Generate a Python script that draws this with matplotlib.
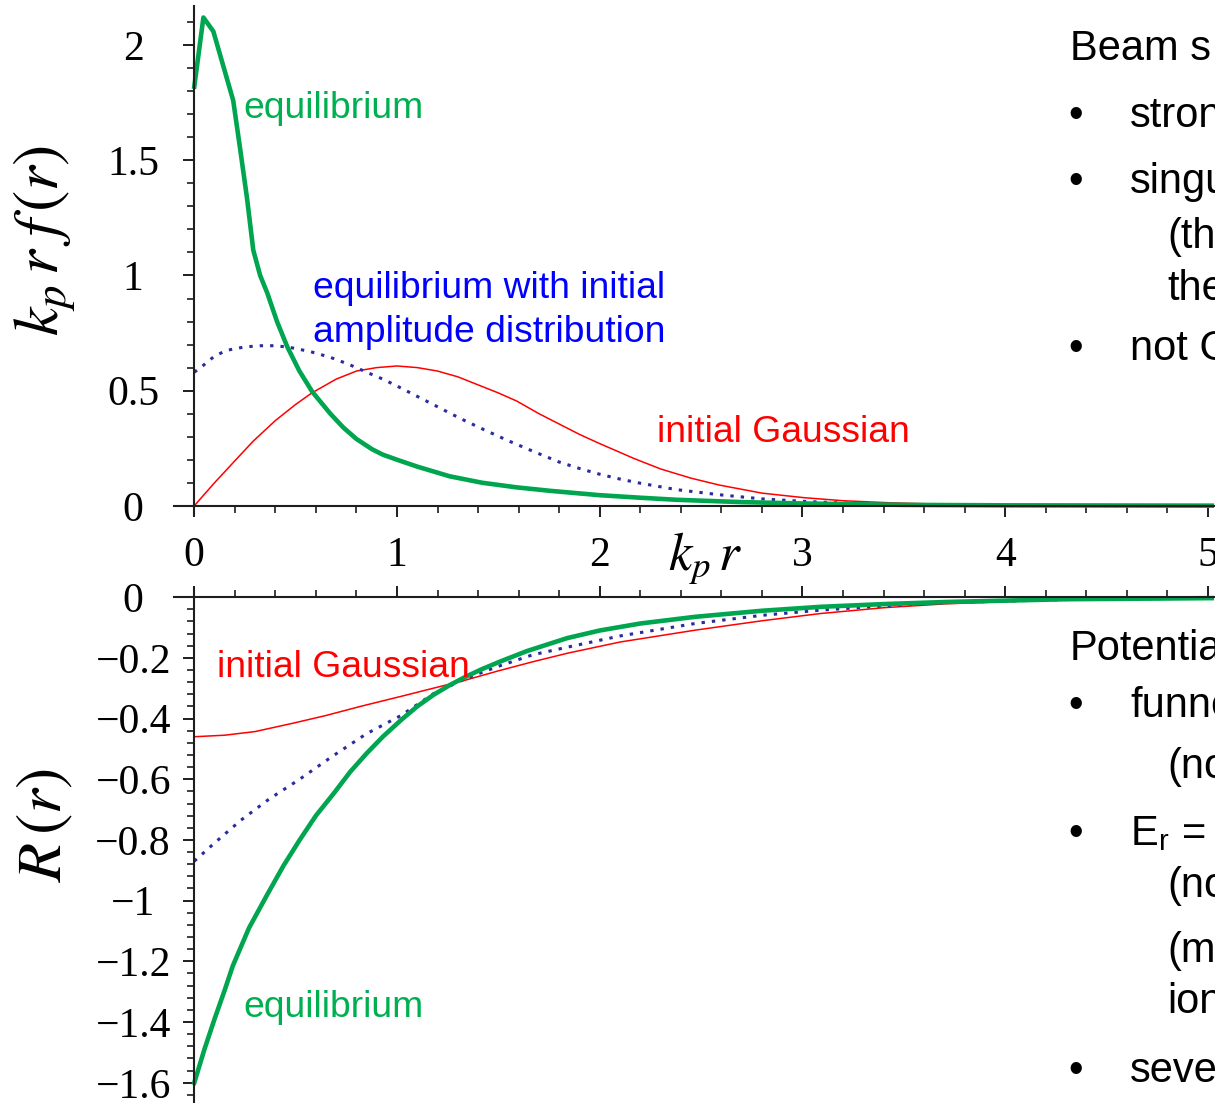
import numpy as np
import matplotlib.pyplot as plt
from matplotlib.ticker import MultipleLocator

plt.rcParams['font.family'] = 'Liberation Serif'
plt.rcParams['mathtext.fontset'] = 'stix'

# --- top panel: k_p r f(r) ---
r_eq_top = [0.0, 0.045, 0.094, 0.192, 0.227, 0.261, 0.291, 0.325, 0.36, 0.409, 0.459,
            0.518, 0.582, 0.671, 0.735, 0.80, 0.878, 0.93, 1.0, 1.1, 1.26, 1.42, 1.59,
            1.755, 2.0, 2.2, 2.38, 2.7, 3.0, 3.5, 4.0, 5.1]
f_eq_top = [1.82, 2.12, 2.06, 1.76, 1.545, 1.33, 1.11, 1.0, 0.924, 0.798, 0.69,
            0.586, 0.495, 0.40, 0.34, 0.29, 0.245, 0.222, 0.20, 0.17, 0.128, 0.10, 0.08,
            0.065, 0.046, 0.035, 0.026, 0.016, 0.010, 0.004, 0.002, 0.0005]

r_amp_top = [0.0, 0.045, 0.1, 0.16, 0.25, 0.33, 0.4, 0.47, 0.57, 0.67, 0.76, 0.85, 0.93,
             1.0, 1.1, 1.2, 1.31, 1.43, 1.55, 1.67, 1.8, 1.9, 2.0, 2.1, 2.2, 2.38, 2.59,
             2.8, 3.01, 3.25, 3.5, 4.0, 5.1]
f_amp_top = [0.58, 0.61, 0.65, 0.675, 0.69, 0.695, 0.695, 0.688, 0.67, 0.645, 0.615, 0.58,
             0.55, 0.52, 0.475, 0.43, 0.38, 0.33, 0.282, 0.237, 0.19, 0.162, 0.137, 0.116,
             0.098, 0.07, 0.048, 0.03, 0.019, 0.01, 0.005, 0.001, 0.0]

r_gauss_top = [0.0, 0.1, 0.2, 0.29, 0.4, 0.5, 0.58, 0.7, 0.8, 0.9, 1.0, 1.1, 1.2, 1.3,
               1.4, 1.5, 1.59, 1.7, 1.8, 1.9, 2.0, 2.17, 2.3, 2.45, 2.59, 2.8, 3.01, 3.2,
               3.43, 3.64, 4.0, 4.5, 5.1]
f_gauss_top = [0.0, 0.1, 0.195, 0.28, 0.37, 0.44, 0.49, 0.55, 0.585, 0.60, 0.607, 0.60,
               0.585, 0.56, 0.525, 0.49, 0.455, 0.40, 0.355, 0.31, 0.27, 0.205, 0.16, 0.12,
               0.09, 0.055, 0.035, 0.022, 0.013, 0.008, 0.002, 0.0005, 0.0]

# --- bottom panel: R(r) ---
r_eq_bot = [0.0, 0.05, 0.1, 0.15, 0.19, 0.27, 0.36, 0.44, 0.52, 0.6, 0.69, 0.77, 0.85,
            0.93, 1.02, 1.1, 1.18, 1.26, 1.34, 1.42, 1.51, 1.64, 1.84, 2.0, 2.2, 2.47,
            2.8, 3.09, 3.4, 3.71, 4.3, 5.1]
R_eq_bot = [-1.6, -1.49, -1.39, -1.295, -1.215, -1.09, -0.98, -0.885, -0.80, -0.72, -0.645,
            -0.575, -0.515, -0.46, -0.405, -0.36, -0.322, -0.29, -0.262, -0.237, -0.212,
            -0.178, -0.135, -0.11, -0.087, -0.065, -0.045, -0.032, -0.023, -0.016,
            -0.007, -0.003]

r_amp_bot = [0.0, 0.1, 0.23, 0.37, 0.52, 0.68, 0.85, 1.02, 1.18, 1.34, 1.5, 1.67, 1.84,
             2.1, 2.47, 2.8, 3.09, 3.4, 3.71, 4.3, 5.1]
R_amp_bot = [-0.87, -0.81, -0.735, -0.665, -0.60, -0.525, -0.45, -0.39, -0.318, -0.268,
             -0.228, -0.19, -0.165, -0.128, -0.087, -0.06, -0.043, -0.029, -0.018, -0.008,
             -0.003]

r_gauss_bot = [0.0, 0.15, 0.3, 0.49, 0.65, 0.82, 1.02, 1.18, 1.33, 1.5, 1.67, 1.84, 2.1,
               2.47, 2.8, 3.09, 3.4, 3.71, 4.23, 5.1]
R_gauss_bot = [-0.46, -0.455, -0.443, -0.415, -0.39, -0.36, -0.327, -0.30, -0.275, -0.243,
               -0.213, -0.185, -0.148, -0.109, -0.078, -0.054, -0.035, -0.022, -0.01,
               -0.004]

x_ticks = [0, 1, 2, 3, 4, 5]
x_labels = ['0', '1', '2', '3', '4', '5']
y_ticks_top = [0, 0.5, 1, 1.5, 2]
y_labels_top = ['0', '0.5', '1', '1.5', '2']
y_ticks_bot = [0, -0.2, -0.4, -0.6, -0.8, -1, -1.2, -1.4, -1.6]
y_labels_bot = ['0', '\u22120.2', '\u22120.4', '\u22120.6', '\u22120.8', '\u22121',
                '\u22121.2', '\u22121.4', '\u22121.6']

green_line = '#00A550'
green_txt = '#00B050'
blue_line = '#2B2BA0'
blue_txt = '#0000FF'
red = '#FF0000'
axis_col = '#1e1e1e'

W, H = 1215, 1103
fig = plt.figure(figsize=(W / 100, H / 100), dpi=100)


def fx(x):
    return x / W


def fy(y):
    return 1 - y / H


ax1 = fig.add_axes([fx(174), fy(515), 1040 / W, 509 / H])
ax2 = fig.add_axes([fx(174), fy(1104), 1040 / W, 516 / H])

for ax in (ax1, ax2):
    ax.patch.set_alpha(0)
    ax.set_xlim(-0.1, 5.03)
    ax.spines['right'].set_visible(False)
    ax.spines['left'].set_position(('data', 0))
    for s in ax.spines.values():
        s.set_color(axis_col)
        s.set_linewidth(1.5)
    ax.set_xticks(x_ticks)
    ax.xaxis.set_minor_locator(MultipleLocator(0.2))
    ax.tick_params(which='major', direction='out', length=8, width=1.4, color=axis_col)
    ax.tick_params(which='minor', direction='out', length=5, width=1.2, color=axis_col)

ax1.spines['top'].set_visible(False)
ax1.spines['bottom'].set_position(('data', 0))
ax2.spines['bottom'].set_visible(False)
ax2.spines['top'].set_position(('data', 0))
ax2.xaxis.tick_top()

ax1.set_ylim(-0.04, 2.17)
ax2.set_ylim(-1.67, 0.03)

ax1.set_xticklabels(x_labels, fontsize=30)
ax1.tick_params(axis='x', pad=14)
ax1.set_yticks(y_ticks_top)
ax1.set_yticklabels(y_labels_top, fontsize=30, ha='center')
ax1.yaxis.set_minor_locator(MultipleLocator(0.1))
ax1.tick_params(axis='y', pad=36)

ax2.tick_params(axis='x', labeltop=False, labelbottom=False)
ax2.set_yticks(y_ticks_bot)
ax2.set_yticklabels(y_labels_bot, fontsize=30, ha='center')
ax2.yaxis.set_minor_locator(MultipleLocator(0.04))
ax2.tick_params(axis='y', pad=36)

# curves
dots = (0, (1.1, 2.3))
ax1.plot(r_gauss_top, f_gauss_top, color=red, lw=1.1)
ax1.plot(r_amp_top, f_amp_top, color=blue_line, lw=2.2, linestyle=dots)
ax1.plot(r_eq_top, f_eq_top, color=green_line, lw=3.3)

ax2.plot(r_gauss_bot, R_gauss_bot, color=red, lw=1.1)
ax2.plot(r_amp_bot, R_amp_bot, color=blue_line, lw=2.2, linestyle=dots)
ax2.plot(r_eq_bot, R_eq_bot, color=green_line, lw=3.3)

# axis labels
fig.text(fx(45), fy(241), r'$k_p\,r\;f\,(r)$', rotation=90, fontsize=46,
         ha='center', va='center')
fig.text(fx(45), fy(825), r'$R\,(r)$', rotation=90, fontsize=46,
         ha='center', va='center')
fig.text(fx(705), fy(570), r'$k_p\,r$', fontsize=38, ha='center', va='baseline')

# curve annotations
ann = dict(family='Liberation Sans', fontsize=26.8, va='baseline')
fig.text(fx(243), fy(118), 'equilibrium', color=green_txt, **ann)
fig.text(fx(313), fy(298), 'equilibrium with initial', color=blue_txt, **ann)
fig.text(fx(313), fy(342), 'amplitude distribution', color=blue_txt, **ann)
fig.text(fx(657), fy(442), 'initial Gaussian', color=red, **ann)
fig.text(fx(217), fy(677), 'initial Gaussian', color=red, **ann)
fig.text(fx(243), fy(1017), 'equilibrium', color=green_txt, **ann)

# slide text on the right (cut by the image edge, as in the source)
side = dict(family='Liberation Sans', fontsize=30, va='baseline', color='black')
side_lines = [
    (1070, 60, 'Beam s', False),
    (1130, 127, 'stron', True),
    (1130, 193, 'singu', True),
    (1167, 248, '(th', False),
    (1167, 300, 'the', False),
    (1130, 360, 'not G', True),
    (1070, 660, 'Potentia', False),
    (1130, 717, 'funne', True),
    (1167, 778, '(no', False),
    (1130, 845, r'E$_{\mathregular{r}}$ =', True),
    (1167, 897, '(no', False),
    (1167, 962, '(m', False),
    (1167, 1013, 'ion', False),
    (1130, 1082, 'seve', True),
]
for x, y, s, bullet in side_lines:
    fig.text(fx(x), fy(y), s, **side)
    if bullet:
        fig.text(fx(1068), fy(y), '\u2022', **side)

fig.savefig('out.png', dpi=100)
